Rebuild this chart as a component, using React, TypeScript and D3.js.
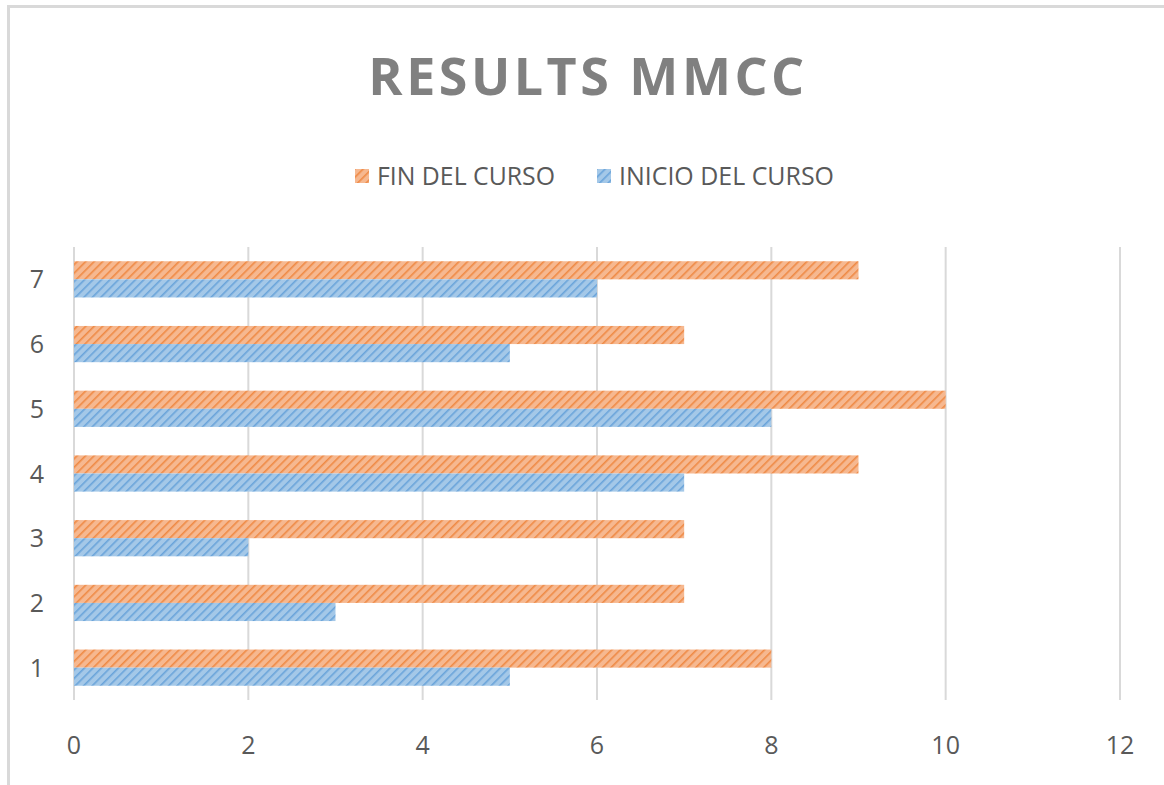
import { useEffect, useRef } from 'react';
import * as d3 from 'd3';

const categories = ['1', '2', '3', '4', '5', '6', '7'];
const inicio = [5, 3, 2, 7, 8, 5, 6];
const fin = [8, 7, 7, 9, 10, 7, 9];
const xTicks = [0, 2, 4, 6, 8, 10, 12];
const seriesNames = ['FIN DEL CURSO', 'INICIO DEL CURSO'];

const App = () => {
  const svgRef = useRef<SVGSVGElement>(null);

  useEffect(() => {
    const width = 1164;
    const height = 785;
    const svg = d3.select(svgRef.current).attr('width', width).attr('height', height);
    svg.selectAll('*').remove();

    const defs = svg.append('defs');
    const makePattern = (id: string, bg: string, fg: string) => {
      const p = defs.append('pattern')
        .attr('id', id)
        .attr('patternUnits', 'userSpaceOnUse')
        .attr('width', 6)
        .attr('height', 6)
        .attr('patternTransform', 'rotate(45)');
      p.append('rect').attr('width', 6).attr('height', 6).attr('fill', bg);
      p.append('rect').attr('x', 0).attr('width', 1.6).attr('height', 6).attr('fill', fg);
    };
    makePattern('hatchOrange', '#f6b890', '#ef8a45');
    makePattern('hatchBlue', '#a4c8e8', '#6aa4da');

    // frame
    svg.append('rect')
      .attr('x', 8.5).attr('y', 6.5)
      .attr('width', 1200).attr('height', 900)
      .attr('fill', 'white')
      .attr('stroke', '#d9d9d9').attr('stroke-width', 3);

    const x = d3.scaleLinear().domain([0, 12]).range([74, 1120]);
    const y = d3.scaleBand().domain(categories.slice().reverse()).range([247, 700]).paddingInner(0.44).paddingOuter(0.22);
    const inner = d3.scaleBand().domain(['fin', 'inicio']).range([0, y.bandwidth()]);

    // gridlines
    svg.append('g')
      .selectAll('line')
      .data(xTicks)
      .enter().append('line')
      .attr('x1', d => x(d)).attr('x2', d => x(d))
      .attr('y1', 247).attr('y2', 700)
      .attr('stroke', '#d9d9d9').attr('stroke-width', 2);

    const groups = svg.append('g')
      .selectAll('g')
      .data(categories)
      .enter().append('g')
      .attr('transform', d => `translate(0, ${y(d)})`);

    groups.append('rect')
      .attr('x', x(0))
      .attr('y', inner('fin')!)
      .attr('width', (_, i) => x(fin[i]) - x(0))
      .attr('height', inner.bandwidth())
      .attr('fill', 'url(#hatchOrange)');

    groups.append('rect')
      .attr('x', x(0))
      .attr('y', inner('inicio')!)
      .attr('width', (_, i) => x(inicio[i]) - x(0))
      .attr('height', inner.bandwidth())
      .attr('fill', 'url(#hatchBlue)');

    // x labels
    svg.append('g')
      .selectAll('text')
      .data(xTicks)
      .enter().append('text')
      .attr('x', d => x(d))
      .attr('y', 754)
      .attr('text-anchor', 'middle')
      .attr('font-family', 'Open Sans, sans-serif')
      .attr('font-size', 25)
      .attr('fill', '#595959')
      .text(d => d);

    // y labels
    svg.append('g')
      .selectAll('text')
      .data(categories)
      .enter().append('text')
      .attr('x', 37)
      .attr('y', d => y(d)! + y.bandwidth() / 2 + 9)
      .attr('text-anchor', 'middle')
      .attr('font-family', 'Open Sans, sans-serif')
      .attr('font-size', 25)
      .attr('fill', '#595959')
      .text(d => d);

    // title
    svg.append('text')
      .attr('x', 588).attr('y', 95)
      .attr('text-anchor', 'middle')
      .attr('font-family', 'Open Sans, sans-serif')
      .attr('font-weight', 'bold')
      .attr('font-size', 52)
      .attr('letter-spacing', 3.5)
      .attr('fill', '#808080')
      .text('RESULTS MMCC');

    // legend
    const legendX = [355, 597];
    const legendFill = ['url(#hatchOrange)', 'url(#hatchBlue)'];
    const legendLen = [178, 215];
    const legend = svg.append('g')
      .selectAll('g')
      .data(seriesNames)
      .enter().append('g')
      .attr('transform', (_, i) => `translate(${legendX[i]}, 176)`);
    legend.append('rect')
      .attr('x', 0).attr('y', -7)
      .attr('width', 14).attr('height', 14)
      .attr('fill', (_, i) => legendFill[i]);
    legend.append('text')
      .attr('x', 22).attr('y', 9)
      .attr('font-family', 'Open Sans, sans-serif')
      .attr('font-size', 25)
      .attr('fill', '#595959')
      .attr('textLength', (_, i) => legendLen[i])
      .attr('lengthAdjust', 'spacingAndGlyphs')
      .text(d => d);
  }, []);

  return (
    <div style={{ position: 'absolute', left: 0, top: 0 }}>
      <svg ref={svgRef} style={{ display: 'block' }} />
    </div>
  );
};

export default App;
